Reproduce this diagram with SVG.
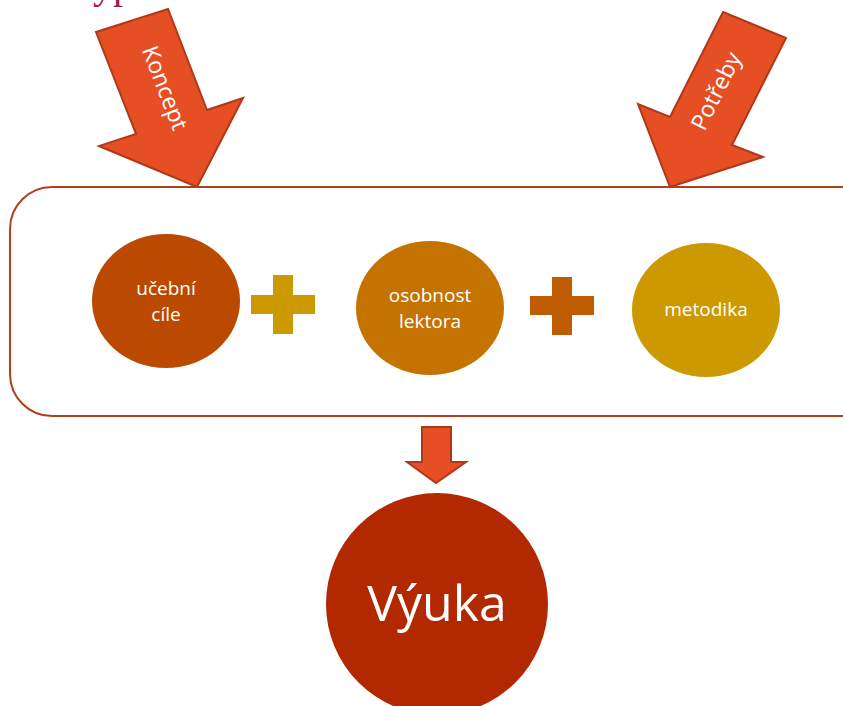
<svg xmlns="http://www.w3.org/2000/svg" width="843" height="706" viewBox="0 0 843 706">
<style>
.arrow{fill:#e64e24;stroke:#b0381a;stroke-width:2;stroke-linejoin:miter}
.lbl{font-family:"Open Sans","Liberation Sans",sans-serif;fill:#fff;text-anchor:middle}
.small{font-size:19px}
</style>
<rect width="843" height="706" fill="#fff"/>
<text x="93" y="-2" font-family="Liberation Serif, serif" font-size="40" fill="#9e1c3a">yp</text>
<g id="container">
<rect x="10" y="187" width="873" height="229" rx="42" ry="42" fill="#fff" stroke="#b0401c" stroke-width="2"/>
</g>
<g id="connectors">
<g id="arrow-koncept">
<polygon class="arrow" points="96,32 168,9 207,110 243,98 197,187 99,146 136,134"/>
<text class="lbl" font-size="23" transform="translate(165,88) rotate(68.7)" dy="8">Koncept</text>
</g>
<g id="arrow-potreby">
<polygon class="arrow" points="723,12 786,38 732,145 763,157 670,187 638,104 670,117"/>
<text class="lbl" font-size="23" transform="translate(716,91) rotate(-63.4)" dy="8">Potřeby</text>
</g>
<g id="arrow-down">
<polygon class="arrow" points="422,427 451,427 451,462 466,462 436,483 407,462 422,462"/>
</g>
</g>
<g id="node-ucebni-cile">
<ellipse cx="166" cy="301" rx="74" ry="67" fill="#bb4a00"/>
<text class="lbl small" x="166" y="295">učební</text>
<text class="lbl small" x="166" y="321">cíle</text>
</g>
<g id="plus-1">
<rect x="273" y="275" width="20" height="59" fill="#cc9a00"/>
<rect x="251" y="295" width="64" height="19" fill="#cc9a00"/>
</g>
<g id="node-osobnost-lektora">
<ellipse cx="430" cy="308" rx="74" ry="67" fill="#c57300"/>
<text class="lbl small" x="430" y="302">osobnost</text>
<text class="lbl small" x="430" y="328">lektora</text>
</g>
<g id="plus-2">
<rect x="552" y="277" width="20" height="58" fill="#bf5b00"/>
<rect x="530" y="296" width="64" height="19" fill="#bf5b00"/>
</g>
<g id="node-metodika">
<ellipse cx="706" cy="310" rx="74" ry="67" fill="#cc9a00"/>
<text class="lbl small" x="706" y="316">metodika</text>
</g>
<g id="node-vyuka">
<circle cx="437" cy="604" r="111" fill="#b22800"/>
<text class="lbl" font-size="50" x="437" y="621">Výuka</text>
</g>
</svg>
